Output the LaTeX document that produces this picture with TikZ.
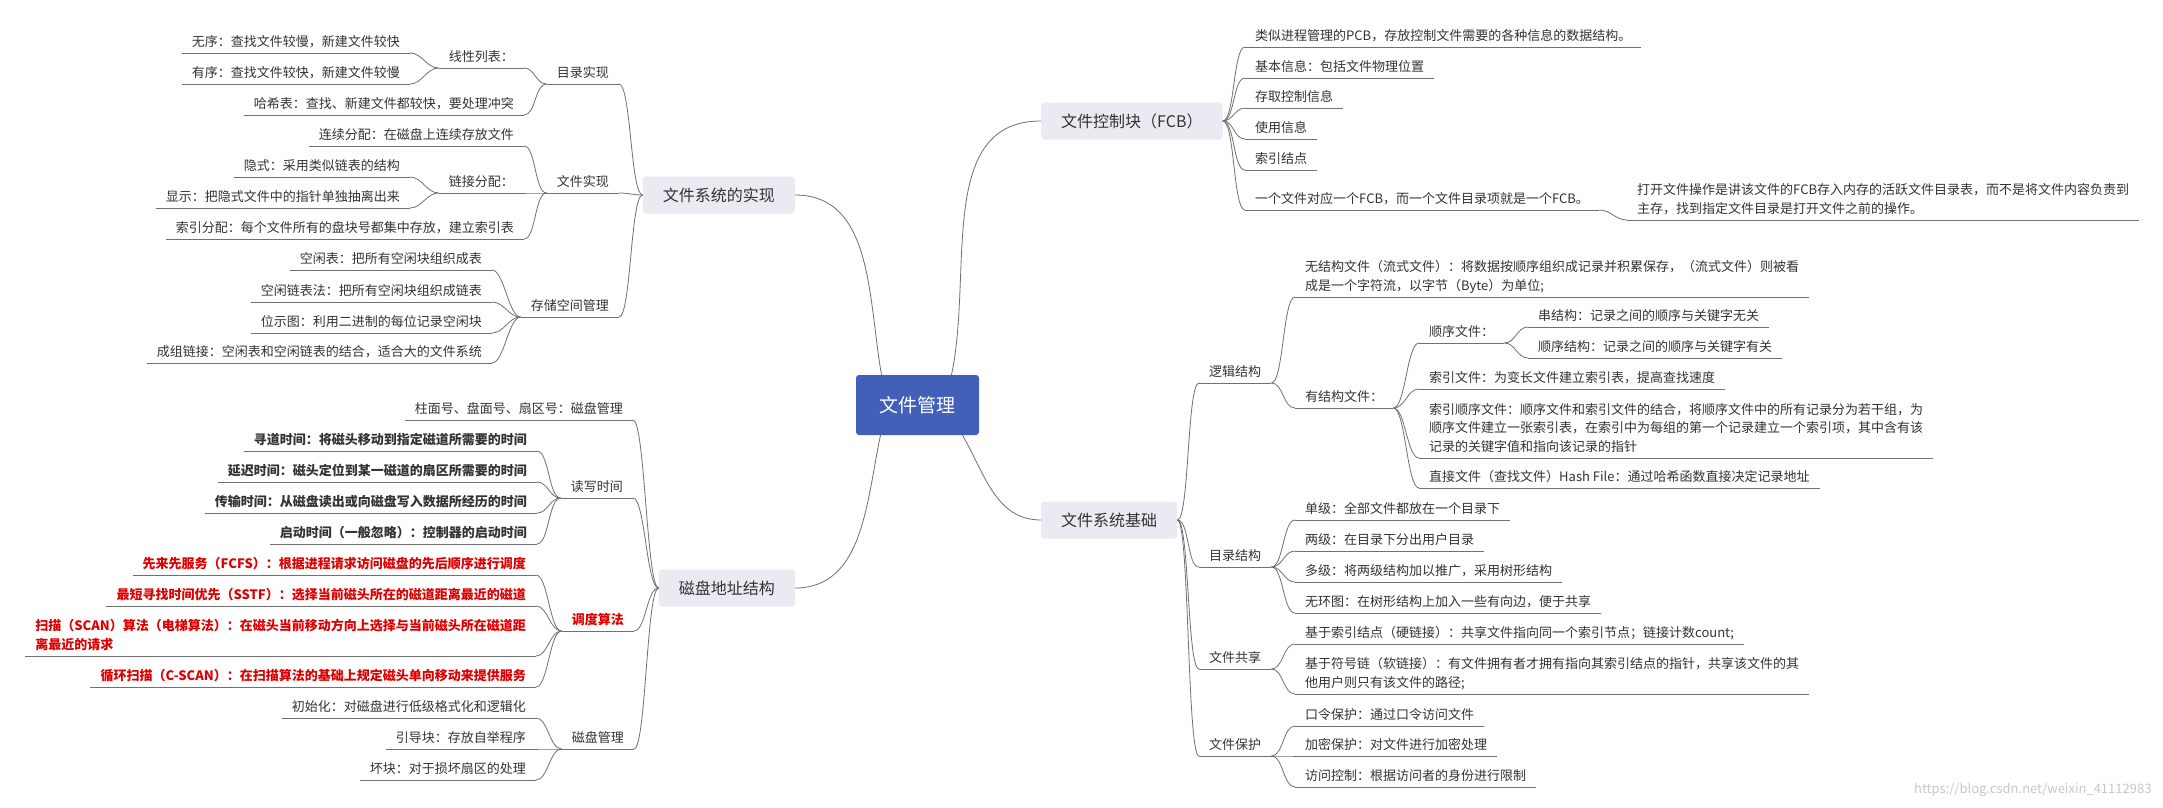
\documentclass[tikz,border=0pt]{standalone}
\usepackage{fontspec}
\setmainfont{Noto Sans CJK SC}
\usetikzlibrary{calc}
\definecolor{linec}{RGB}{112,112,112}
\definecolor{txtc}{RGB}{51,51,51}
\definecolor{boxc}{RGB}{233,234,242}
\definecolor{rootc}{RGB}{66,96,184}
\definecolor{hotc}{RGB}{222,0,0}
\definecolor{markc}{RGB}{200,200,200}

\begin{document}
\begin{tikzpicture}[x=1pt,y=1pt,
  leaf/.style={font=\fontsize{13}{18.5}\selectfont,text=txtc,align=left,inner xsep=10pt,inner ysep=4pt,text depth=2.5pt},
  lleaf/.style={leaf,anchor=south east},
  rleaf/.style={leaf,anchor=south west},
  heavy/.style={font=\fontsize{13}{18.5}\selectfont\bfseries},
  hot/.style={text=hotc,font=\fontsize{13}{18.5}\selectfont\bfseries},
  topic/.style={fill=boxc,rounded corners=3pt,text=txtc,font=\fontsize{16}{16}\selectfont,inner xsep=20pt,minimum height=37pt},
  conn/.style={draw=linec,line width=0.8pt}]
\fill[white] (0,0) rectangle (2163,-808);
\useasboundingbox (0,0) rectangle (2163,-808);
% root and main topics
\node[fill=rootc,rounded corners=3pt,text=white,font=\fontsize{19}{19}\selectfont,minimum width=123pt,minimum height=60pt] (root) at (917.5,-405) {文件管理};
\node[topic,anchor=east] (impl) at (795,-195) {文件系统的实现};
\node[topic,anchor=east] (disk) at (795,-588) {磁盘地址结构};
\node[topic,anchor=west] (fcb) at (1041,-121) {文件控制块（FCB）};
\node[topic,anchor=west] (base) at (1041,-520) {文件系统基础};
% 文件系统的实现
\node[lleaf] (dir) at (619,-84) {目录实现};
\node[lleaf] (lin) at (524,-68) {线性列表：};
\node[lleaf] (lin1) at (410,-53) {无序：查找文件较慢，新建文件较快};
\node[lleaf] (lin2) at (410,-84) {有序：查找文件较快，新建文件较慢};
\node[lleaf] (hash) at (524,-115) {哈希表：查找、新建文件都较快，要处理冲突};
\node[lleaf] (file) at (619,-193) {文件实现};
\node[lleaf] (cont) at (524,-146) {连续分配：在磁盘上连续存放文件};
\node[lleaf] (link) at (524,-193) {链接分配：};
\node[lleaf] (link1) at (410,-177) {隐式：采用类似链表的结构};
\node[lleaf] (link2) at (410,-208) {显示：把隐式文件中的指针单独抽离出来};
\node[lleaf] (idx) at (524,-239) {索引分配：每个文件所有的盘块号都集中存放，建立索引表};
\node[lleaf] (free) at (619,-317) {存储空间管理};
\node[lleaf] (free1) at (492,-270) {空闲表：把所有空闲块组织成表};
\node[lleaf] (free2) at (492,-302) {空闲链表法：把所有空闲块组织成链表};
\node[lleaf] (free3) at (492,-333) {位示图：利用二进制的每位记录空闲块};
\node[lleaf] (free4) at (492,-363) {成组链接：空闲表和空闲链表的结合，适合大的文件系统};
% 磁盘地址结构
\node[lleaf] (chs) at (633,-420) {柱面号、盘面号、扇区号：磁盘管理};
\node[lleaf] (rw) at (633,-498) {读写时间};
\node[lleaf,heavy] (rw1) at (537,-451) {寻道时间：将磁头移动到指定磁道所需要的时间};
\node[lleaf,heavy] (rw2) at (537,-482) {延迟时间：磁头定位到某一磁道的扇区所需要的时间};
\node[lleaf,heavy] (rw3) at (537,-513) {传输时间：从磁盘读出或向磁盘写入数据所经历的时间};
\node[lleaf,heavy] (rw4) at (537,-544) {启动时间（一般忽略）：控制器的启动时间};
\node[lleaf,hot] (sch) at (634,-631) {调度算法};
\node[lleaf,hot] (sch1) at (536,-575) {先来先服务（FCFS）：根据进程请求访问磁盘的先后顺序进行调度};
\node[lleaf,hot] (sch2) at (536,-606) {最短寻找时间优先（SSTF）：选择当前磁头所在的磁道距离最近的磁道};
\node[lleaf,hot] (sch3) at (536,-656) {扫描（SCAN）算法（电梯算法）：在磁头当前移动方向上选择与当前磁头所在磁道距\\离最近的请求};
\node[lleaf,hot] (sch4) at (536,-687) {循环扫描（C-SCAN）：在扫描算法的基础上规定磁头单向移动来提供服务};
\node[lleaf] (mgr) at (634,-749) {磁盘管理};
\node[lleaf] (mgr1) at (536,-718) {初始化：对磁盘进行低级格式化和逻辑化};
\node[lleaf] (mgr2) at (536,-749) {引导块：存放自举程序};
\node[lleaf] (mgr3) at (536,-780) {坏块：对于损坏扇区的处理};
% 文件控制块
\node[rleaf] (pcb) at (1245,-47) {类似进程管理的PCB，存放控制文件需要的各种信息的数据结构。};
\node[rleaf] (info) at (1245,-78) {基本信息：包括文件物理位置};
\node[rleaf] (acc) at (1245,-108) {存取控制信息};
\node[rleaf] (use) at (1245,-139) {使用信息};
\node[rleaf] (inode) at (1245,-170) {索引结点};
\node[rleaf] (one) at (1245,-210) {一个文件对应一个FCB，而一个文件目录项就是一个FCB。};
\node[rleaf] (open) at (1627,-220) {打开文件操作是讲该文件的FCB存入内存的活跃文件目录表，而不是将文件内容负责到\\主存，找到指定文件目录是打开文件之前的操作。};
% 文件系统基础
\node[rleaf] (logic) at (1199,-383) {逻辑结构};
\node[rleaf] (unst) at (1295,-297) {无结构文件（流式文件）：将数据按顺序组织成记录并积累保存，（流式文件）则被看\\成是一个字符流，以字节（Byte）为单位;};
\node[rleaf] (st) at (1295,-408) {有结构文件：};
\node[rleaf] (seq) at (1419,-343) {顺序文件：};
\node[rleaf] (seq1) at (1528,-327) {串结构：记录之间的顺序与关键字无关};
\node[rleaf] (seq2) at (1528,-358) {顺序结构：记录之间的顺序与关键字有关};
\node[rleaf] (ix) at (1419,-389) {索引文件：为变长文件建立索引表，提高查找速度};
\node[rleaf] (ixs) at (1419,-458) {索引顺序文件：顺序文件和索引文件的结合，将顺序文件中的所有记录分为若干组，为\\顺序文件建立一张索引表，在索引中为每组的第一个记录建立一个索引项，其中含有该\\记录的关键字值和指向该记录的指针};
\node[rleaf] (hsh) at (1419,-488) {直接文件（查找文件）Hash File：通过哈希函数直接决定记录地址};
\node[rleaf] (tree) at (1199,-567) {目录结构};
\node[rleaf] (tree1) at (1295,-520) {单级：全部文件都放在一个目录下};
\node[rleaf] (tree2) at (1295,-551) {两级：在目录下分出用户目录};
\node[rleaf] (tree3) at (1295,-582) {多级：将两级结构加以推广，采用树形结构};
\node[rleaf] (tree4) at (1295,-613) {无环图：在树形结构上加入一些有向边，便于共享};
\node[rleaf] (share) at (1199,-669) {文件共享};
\node[rleaf] (share1) at (1295,-644) {基于索引结点（硬链接）：共享文件指向同一个索引节点；链接计数count;};
\node[rleaf] (share2) at (1295,-694) {基于符号链（软链接）：有文件拥有者才拥有指向其索引结点的指针，共享该文件的其\\他用户则只有该文件的路径;};
\node[rleaf] (prot) at (1199,-756) {文件保护};
\node[rleaf] (prot1) at (1295,-726) {口令保护：通过口令访问文件};
\node[rleaf] (prot2) at (1295,-756) {加密保护：对文件进行加密处理};
\node[rleaf] (prot3) at (1295,-787) {访问控制：根据访问者的身份进行限制};
\node[anchor=east,text=markc,font=\fontsize{13}{13}\selectfont] (mark) at (2155,-790) {https://blog.csdn.net/weixin\_41112983};
% underlines
\foreach \n in {dir,lin,lin1,lin2,hash,file,cont,link,link1,link2,idx,free,free1,free2,free3,free4,
  chs,rw,rw1,rw2,rw3,rw4,sch,sch1,sch2,sch3,sch4,mgr,mgr1,mgr2,mgr3,
  pcb,info,acc,use,inode,one,open,logic,unst,st,seq,seq1,seq2,ix,ixs,hsh,
  tree,tree1,tree2,tree3,tree4,share,share1,share2,prot,prot1,prot2,prot3}
  \draw[conn] (\n.south west) -- (\n.south east);
% root to main topics
\path[conn] ($(root.north)+(-36,0)$) edge[out=100,in=0] (impl.east)
  ($(root.north)+(34,0)$) edge[out=78,in=180] (fcb.west)
  ($(root.south)+(-37,0)$) edge[out=-102,in=0] (disk.east)
  ($(root.south)+(45,0)$) edge[out=-60,in=180] (base.west);
% left branches
\path[conn,out=0,in=180,max distance=12pt]
  (dir.south east) edge (impl.west) (file.south east) edge (impl.west) (free.south east) edge (impl.west)
  (lin.south east) edge (dir.south west) (hash.south east) edge (dir.south west)
  (lin1.south east) edge (lin.south west) (lin2.south east) edge (lin.south west)
  (cont.south east) edge (file.south west) (link.south east) edge (file.south west) (idx.south east) edge (file.south west)
  (link1.south east) edge (link.south west) (link2.south east) edge (link.south west)
  (free1.south east) edge (free.south west) (free2.south east) edge (free.south west)
  (free3.south east) edge (free.south west) (free4.south east) edge (free.south west);
\path[conn,out=0,in=180,max distance=12pt]
  (chs.south east) edge (disk.west) (rw.south east) edge (disk.west)
  (sch.south east) edge (disk.west) (mgr.south east) edge (disk.west)
  (rw1.south east) edge (rw.south west) (rw2.south east) edge (rw.south west)
  (rw3.south east) edge (rw.south west) (rw4.south east) edge (rw.south west)
  (sch1.south east) edge (sch.south west) (sch2.south east) edge (sch.south west)
  (sch3.south east) edge (sch.south west) (sch4.south east) edge (sch.south west)
  (mgr1.south east) edge (mgr.south west) (mgr2.south east) edge (mgr.south west) (mgr3.south east) edge (mgr.south west);
% right branches
\path[conn,out=0,in=180,max distance=12pt]
  (fcb.east) edge (pcb.south west) (fcb.east) edge (info.south west) (fcb.east) edge (acc.south west)
  (fcb.east) edge (use.south west) (fcb.east) edge (inode.south west) (fcb.east) edge (one.south west)
  (one.south east) edge (open.south west);
\path[conn,out=0,in=180,max distance=12pt]
  (base.east) edge (logic.south west) (base.east) edge (tree.south west)
  (base.east) edge (share.south west) (base.east) edge (prot.south west)
  (logic.south east) edge (unst.south west) (logic.south east) edge (st.south west)
  (st.south east) edge (seq.south west) (st.south east) edge (ix.south west)
  (st.south east) edge (ixs.south west) (st.south east) edge (hsh.south west)
  (seq.south east) edge (seq1.south west) (seq.south east) edge (seq2.south west)
  (tree.south east) edge (tree1.south west) (tree.south east) edge (tree2.south west)
  (tree.south east) edge (tree3.south west) (tree.south east) edge (tree4.south west)
  (share.south east) edge (share1.south west) (share.south east) edge (share2.south west)
  (prot.south east) edge (prot1.south west) (prot.south east) edge (prot2.south west) (prot.south east) edge (prot3.south west);
\end{tikzpicture}
\end{document}
